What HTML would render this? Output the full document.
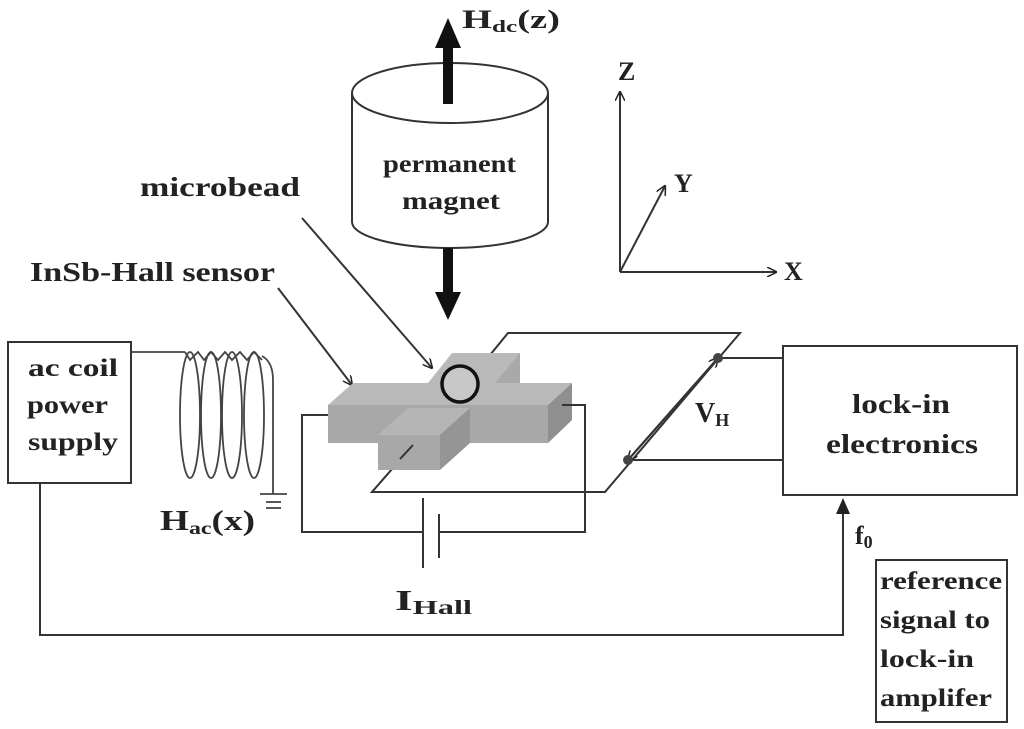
<!DOCTYPE html>
<html><head><style>
html,body{margin:0;padding:0;background:#fff;}
svg{display:block;}
text{font-family:"Liberation Serif",serif;fill:#222;font-weight:bold;}
</style></head><body>
<svg width="1024" height="729" viewBox="0 0 1024 729" xmlns="http://www.w3.org/2000/svg">
<defs>
<marker id="a" markerWidth="10" markerHeight="10" refX="9" refY="5" orient="auto" markerUnits="userSpaceOnUse"><path d="M0,0 L10,5 L0,10" fill="none" stroke="#222" stroke-width="1.5"/></marker>
</defs>
<g stroke="#333" stroke-width="2" fill="none">
<path d="M352,93 L352,222 A98,26 0 0 0 548,222 L548,93" fill="#fff"/>
<ellipse cx="450" cy="93" rx="98" ry="30" fill="#fff"/>
</g>
<rect x="443" y="44" width="10" height="60" fill="#111"/>
<polygon points="448,18 435,48 461,48" fill="#111"/>
<rect x="443" y="248" width="10" height="48" fill="#111"/>
<polygon points="448,320 435,292 461,292" fill="#111"/>
<text x="462" y="28" font-size="26" textLength="98" lengthAdjust="spacingAndGlyphs">H<tspan font-size="17" dy="4">dc</tspan><tspan dy="-4">(z)</tspan></text>
<text x="383" y="172" font-size="25" textLength="133" lengthAdjust="spacingAndGlyphs">permanent</text>
<text x="402" y="209" font-size="25" textLength="98" lengthAdjust="spacingAndGlyphs">magnet</text>
<g stroke="#333" stroke-width="2" fill="none">
<line x1="620" y1="272" x2="620" y2="92" marker-end="url(#a)"/>
<line x1="620" y1="272" x2="776" y2="272" marker-end="url(#a)"/>
<line x1="620" y1="272" x2="665" y2="186" marker-end="url(#a)"/>
</g>
<text x="618" y="80" font-size="26" font-weight="normal">Z</text>
<text x="674" y="192" font-size="26" font-weight="normal">Y</text>
<text x="784" y="280" font-size="26" font-weight="normal">X</text>
<text x="140" y="196" font-size="27" textLength="160" lengthAdjust="spacingAndGlyphs">microbead</text>
<text x="30" y="281" font-size="27" textLength="245" lengthAdjust="spacingAndGlyphs">InSb-Hall sensor</text>
<g stroke="#333" stroke-width="2" fill="none">
<line x1="302" y1="218" x2="432" y2="368" marker-end="url(#a)"/>
<line x1="278" y1="288" x2="352" y2="385" marker-end="url(#a)"/>
</g>
<rect x="8" y="342" width="123" height="141" fill="#fff" stroke="#333" stroke-width="2"/>
<text x="28" y="376" font-size="25" textLength="90" lengthAdjust="spacingAndGlyphs">ac  coil</text>
<text x="27" y="413" font-size="25" textLength="81" lengthAdjust="spacingAndGlyphs">power</text>
<text x="28" y="450" font-size="25" textLength="90" lengthAdjust="spacingAndGlyphs">supply</text>
<g stroke="#444" stroke-width="1.8" fill="none">
<line x1="131" y1="352" x2="185" y2="352"/>
<path d="M185,352 L190,360 L198,352 L204,360 L211,352 L218,360 L225,352 L232,360 L240,352 L247,360 L254,352 L262,360"/>
<ellipse cx="190" cy="415" rx="10" ry="63"/>
<ellipse cx="211" cy="415" rx="10" ry="63"/>
<ellipse cx="232" cy="415" rx="10" ry="63"/>
<ellipse cx="254" cy="415" rx="10" ry="63"/>
<path d="M262,356 Q273,362 273,380 L273,494"/>
<line x1="260" y1="494" x2="287" y2="494"/>
<line x1="266" y1="502" x2="281" y2="502"/>
<line x1="266" y1="508" x2="281" y2="508"/>
</g>
<text x="160" y="530" font-size="28" textLength="95" lengthAdjust="spacingAndGlyphs">H<tspan font-size="18" dy="4">ac</tspan><tspan dy="-4">(x)</tspan></text>
<g stroke="#333" stroke-width="2" fill="none">
<polyline points="490,355 508,333 740,333 605,492 372,492 413,445"/>
<line x1="718" y1="358" x2="783" y2="358"/>
<line x1="628" y1="460" x2="783" y2="460"/>
<line x1="628" y1="460" x2="718" y2="358" marker-end="url(#a)"/>
<line x1="718" y1="358" x2="628" y2="460" marker-end="url(#a)"/>
</g>
<circle cx="718" cy="358" r="5" fill="#444"/>
<circle cx="628" cy="460" r="5" fill="#444"/>
<text x="695" y="422" font-size="28" font-weight="normal">V<tspan font-size="18" font-weight="bold" dy="4">H</tspan></text>
<polygon points="452,353 520,353 520,383 495,383" fill="#a9a9a9"/>
<polygon points="452,353 520,353 495,383 428,383" fill="#b9b9b9"/>
<polygon points="328,405 353,383 572,383 548,405" fill="#b9b9b9"/>
<rect x="328" y="405" width="220" height="38" fill="#a8a8a8"/>
<polygon points="548,405 572,383 572,420 548,443" fill="#8f8f8f"/>
<polygon points="378,435 440,435 470,408 408,408" fill="#b5b5b5"/>
<rect x="378" y="435" width="62" height="35" fill="#a8a8a8"/>
<polygon points="440,435 470,408 470,443 440,470" fill="#959595"/>
<line x1="413" y1="445" x2="400" y2="459" stroke="#333" stroke-width="2"/>
<circle cx="460" cy="384" r="18" fill="#c8c8c8" stroke="#111" stroke-width="3.5"/>
<g stroke="#333" stroke-width="2" fill="none">
<polyline points="328,415 302,415 302,532 423,532"/>
<polyline points="439,532 585,532 585,405 562,405"/>
<line x1="423" y1="498" x2="423" y2="568"/>
<line x1="439" y1="514" x2="439" y2="558"/>
</g>
<text x="395" y="610" font-size="28" font-weight="normal" textLength="77" lengthAdjust="spacingAndGlyphs">I<tspan font-size="20" font-weight="bold" dy="4">Hall</tspan></text>
<rect x="783" y="346" width="234" height="149" fill="#fff" stroke="#333" stroke-width="2"/>
<text x="852" y="413" font-size="27" textLength="98" lengthAdjust="spacingAndGlyphs">lock-in</text>
<text x="826" y="453" font-size="27" textLength="152" lengthAdjust="spacingAndGlyphs">electronics</text>
<g stroke="#333" stroke-width="2" fill="none">
<polyline points="40,483 40,635 843,635 843,512"/>
</g>
<polygon points="843,498 836,514 850,514" fill="#222"/>
<text x="855" y="544" font-size="26">f<tspan font-size="18" dy="4">0</tspan></text>
<rect x="876" y="560" width="131" height="162" fill="#fff" stroke="#333" stroke-width="2"/>
<text x="880" y="589" font-size="25" textLength="122" lengthAdjust="spacingAndGlyphs">reference</text>
<text x="880" y="628" font-size="25" textLength="110" lengthAdjust="spacingAndGlyphs">signal to</text>
<text x="880" y="667" font-size="25" textLength="94" lengthAdjust="spacingAndGlyphs">lock-in</text>
<text x="880" y="706" font-size="25" textLength="112" lengthAdjust="spacingAndGlyphs">amplifer</text>
</svg>
</body></html>
